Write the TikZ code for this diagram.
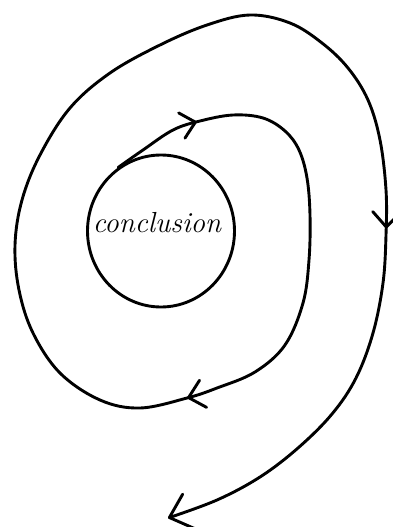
\documentclass[tikz,border=0pt]{standalone}
\usepackage{tikz}
\usetikzlibrary{arrows.meta,shapes.geometric,decorations.markings}
\tikzset{
  inkline/.style={line width=2.9pt, line cap=round, line join=round, draw=black},
  core/.style={inkline, ellipse, minimum width=147pt, minimum height=152pt, inner sep=0pt},
  word/.style={font=\fontsize{29}{30}\selectfont\itshape, inner sep=0pt},
  barb/.style={-{Straight Barb[length=20pt,width=36pt,round]}},
  spiral/.style={inkline, barb, decoration={markings,
      mark=at position 0.05 with {\arrow{Straight Barb[length=14pt,width=26pt,round]}},
      mark=at position 0.285 with {\arrow{Straight Barb[length=15pt,width=28pt,round]}},
      mark=at position 0.785 with {\arrow{Straight Barb[length=15pt,width=28pt,round]}}},
    postaction=decorate}
}
\begin{document}
\begin{tikzpicture}[x=1pt, y=-1pt]
  \useasboundingbox (0,0) rectangle (392,527);
  \node[core] (concl) at (161,231) {};
  \node[word] (label) at (157,223) {conclusion};
  \coordinate (start) at (concl.124);
  \coordinate (tip) at (168,518);
  % one continuous spiral out of the core
  \draw[spiral] plot[smooth, tension=0.6] coordinates {(start) (143,150) (173,130)
    (200,121) (233,115) (263,118) (285,131) (299,150) (307,178) (310,215) (309,260)
    (303,303) (285,345) (255,372) (217,388) (187,398) (140,408) (100,400) (60,373)
    (33,333) (19,290) (15,245) (22,200) (40,155) (70,108) (110,73) (160,45) (207,25)
    (250,15) (290,23) (322,43) (348,68) (368,100) (380,140) (386,190) (386,235)
    (383,283) (373,333) (356,378) (332,414) (298,448) (260,477) (217,500) (tip)};
\end{tikzpicture}
\end{document}
